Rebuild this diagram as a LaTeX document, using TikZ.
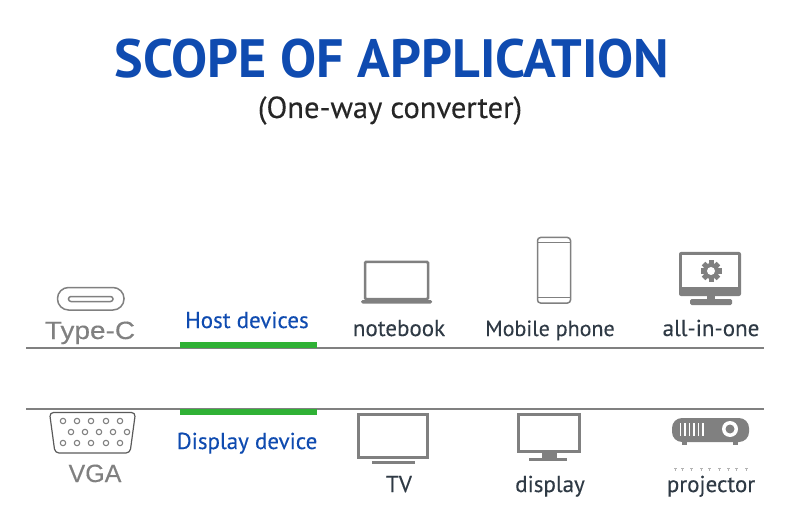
\documentclass[tikz,border=0pt]{standalone}
\usepackage{fontspec}
\setmainfont{PT Sans}
\newfontfamily\labelfont[FakeBold=0.25]{PT Sans}
\newfontfamily\plugfont[FakeBold=0.3]{Liberation Sans}
\newfontfamily\widefont[FakeBold=0.3,FakeStretch=1.12]{Liberation Sans}
\definecolor{scopeblue}{HTML}{0F4BB0}
\definecolor{bargreen}{HTML}{2FB135}
\definecolor{icongray}{HTML}{808080}
\definecolor{labeldark}{HTML}{2F3A45}
\tikzset{
	titletext/.style={anchor=base,inner sep=0pt,text=scopeblue,font=\fontsize{54}{54}\selectfont\bfseries},
	subtext/.style={anchor=base,inner sep=0pt,text=black!85,font=\labelfont\fontsize{30.5}{30}\selectfont},
	devicetext/.style={anchor=base,inner sep=0pt,text=labeldark,font=\labelfont\fontsize{23}{23}\selectfont},
	hosttext/.style={anchor=base,inner sep=0pt,text=scopeblue,font=\labelfont\fontsize{23}{23}\selectfont},
	plugtext/.style={anchor=base,inner sep=0pt,text=icongray},
	rule/.style={draw=icongray,line width=1.2pt},
	bar/.style={fill=bargreen,draw=none},
	outline/.style={draw=icongray,line width=2.5pt},
	thinline/.style={draw=icongray,line width=1.5pt},
	solid gray/.style={fill=icongray,draw=none},
}
\begin{document}
\begin{tikzpicture}[x=1pt,y=-1pt]
	\useasboundingbox (0,0) rectangle (790,513);
	\node[titletext] (title) at (392,78) {SCOPE OF APPLICATION};
	\node[subtext] (subtitle) at (390,118) {(One-way converter)};

	\coordinate (upperleft) at (26,348);
	\coordinate (upperright) at (764,348);
	\coordinate (lowerleft) at (26,409);
	\coordinate (lowerright) at (764,409);
	\draw[rule] (upperleft) -- (upperright);
	\draw[rule] (lowerleft) -- (lowerright);
	\fill[bar] (180,342) rectangle (317,348);
	\fill[bar] (180,409) rectangle (317,415);

	\node[hosttext] (host) at (247,328) {Host devices};
	\node[hosttext] (displaydev) at (247,449) {Display device};
	\node[plugtext,font=\widefont\fontsize{25}{25}\selectfont] (typec) at (90,339) {Type-C};
	\node[plugtext,font=\plugfont\fontsize{25}{25}\selectfont] (vga) at (95,482) {VGA};
	\node[devicetext] (notebook) at (399,336) {notebook};
	\node[devicetext,font=\labelfont\fontsize{22}{22}\selectfont] (phone) at (550,336) {Mobile phone};
	\node[devicetext] (allinone) at (711,336) {all-in-one};
	\node[devicetext] (tv) at (399,492) {TV};
	\node[devicetext] (display) at (550,492) {display};
	\node[devicetext] (projector) at (711,492) {projector};

	\draw[thinline,rounded corners=11pt] (57.5,287.5) rectangle (124,310);
	\draw[thinline,rounded corners=2.5pt] (68.5,296.5) rectangle (113,301.5);

	\draw[outline,rounded corners=1pt] (365,262) rectangle (428,299);
	\fill[solid gray,rounded corners=1.5pt] (361,300) rectangle (432,303.5);

	\draw[thinline,rounded corners=3pt] (537.5,237.5) rectangle (570.5,303);
	\draw[draw=icongray,line width=1pt] (538,243) -- (570,243);
	\draw[draw=icongray,line width=1pt] (538,297.5) -- (570,297.5);

	\fill[solid gray,rounded corners=2pt] (679,252) rectangle (741,296);
	\fill[white] (682,255) rectangle (738,287);
	\fill[solid gray] (707,296) rectangle (715,300);
	\fill[solid gray,rounded corners=1.5pt] (690,299) rectangle (732,305);
	\foreach \a in {0,45,...,315}
		\fill[solid gray,rotate around={\a:(711,271)}] (708.5,260.5) rectangle (713.5,265);
	\fill[solid gray] (711,271) circle (8);
	\fill[white] (711,271) circle (4);

	\draw[draw=icongray!70!black,line width=1.2pt,rounded corners=4pt] (49.5,412.5) -- (135.5,412.5) -- (130,453) -- (55,453) -- cycle;
	\foreach \x in {63,77,91,106,120} {
		\draw[draw=icongray,line width=1.1pt] (\x,421) circle (2.7);
		\draw[draw=icongray,line width=1.1pt] (\x,443) circle (2.7);
	}
	\foreach \x in {71,85,99,113,127}
		\draw[draw=icongray,line width=1.1pt] (\x,432) circle (2.7);

	\draw[outline,line width=3pt] (358.5,414.5) rectangle (427,457);
	\fill[solid gray] (372,461) rectangle (415,464);

	\draw[outline,line width=3pt] (518.5,414.5) rectangle (579,451);
	\fill[solid gray] (542,452) rectangle (557,458);
	\fill[solid gray] (529,458) rectangle (567,461);

	\fill[solid gray,rounded corners=10pt] (672,418) rectangle (749,442);
	\fill[solid gray] (682,441) rectangle (687,445);
	\fill[solid gray] (733,441) rectangle (738,445);
	\foreach \x in {680.5,685,689.5,694,698.5,703}
		\fill[white] (\x-0.9,423) rectangle (\x+0.9,436);
	\fill[white] (730,429) circle (8);
	\fill[solid gray] (730,429) circle (4.5);

	\foreach \x in {674,681,690,700,708,718,727,735,745}
		\draw[draw=icongray!60,line width=0.8pt] (\x,468.5) -- (\x+3,468.5) (\x+1,468.5) -- (\x+1,471);
\end{tikzpicture}
\end{document}
